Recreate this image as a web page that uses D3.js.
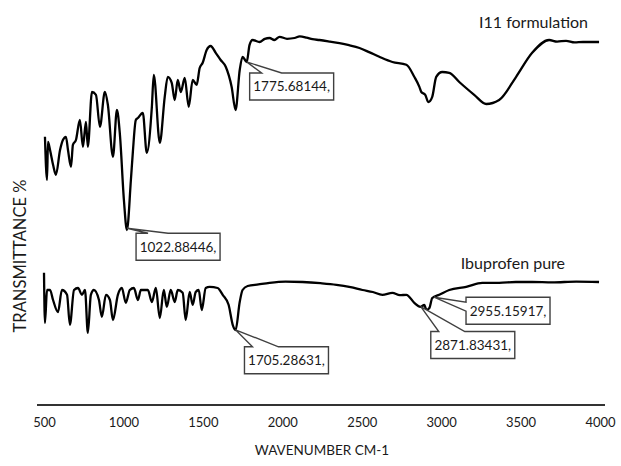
<!DOCTYPE html>
<html>
<head>
<meta charset="utf-8">
<script src="https://cdn.jsdelivr.net/npm/d3@7"></script>
<style>
  html, body { margin: 0; padding: 0; background: #fff; }
  svg { display: block; font-family: Lato, "Open Sans", sans-serif; }
  .lbl { fill: #1a1a1a; }
</style>
</head>
<body>
<svg id="chart" width="621" height="466"></svg>
<script>
'use strict';

// x ticks
const xTicks = [500, 1000, 1500, 2000, 2500, 3000, 3500, 4000];

// I11 formulation (top trace) - wavenumber / transmittance
const i11Wn = [506, 519, 525, 538, 557, 575, 601, 619, 638, 651, 670, 682, 701, 726, 745, 764, 776, 802, 827, 852,
  883, 902, 934, 959, 978, 1003, 1022, 1047, 1059, 1078, 1091, 1122, 1147, 1179, 1191, 1229, 1260, 1279, 1304, 1323,
  1342, 1361, 1386, 1411, 1436, 1461, 1480, 1499, 1524, 1549, 1581, 1612, 1644, 1681, 1706, 1732, 1750, 1776, 1794, 1813,
  1857, 1890, 1920, 1950, 1983, 2030, 2077, 2110, 2153, 2190, 2234, 2300, 2360, 2420, 2486, 2550, 2611, 2693, 2781, 2831,
  2863, 2875, 2900, 2919, 2944, 2969, 3007, 3051, 3114, 3208, 3284, 3365, 3472, 3573, 3680, 3730, 3786, 3840, 3893, 3994];
const i11T = [65.8, 55, 64.5, 62.5, 58.8, 56.3, 62.5, 65, 65.8, 62.5, 58.3, 63.8, 65, 70, 63.3, 69.5, 63.3, 77, 76.3, 68.3,
  77, 73.8, 60.8, 72.5, 66.3, 50, 42.5, 55, 61.8, 70, 70.5, 71.8, 61.8, 73.3, 81.3, 64.3, 75.8, 80.8, 79.3, 75,
  80, 77, 80.5, 73.3, 80, 78.8, 83, 84.3, 87.5, 88.5, 86.8, 85, 83.3, 78.3, 72.5, 82.5, 85.8, 84.5, 88.8, 90,
  89.5, 90.3, 90.5, 90, 90.8, 90.3, 90.5, 90.9, 90.6, 90.2, 90, 89.6, 89.2, 88.7, 88, 86.9, 85.8, 84.5, 83.8, 80.8,
  78.3, 77, 76.3, 74.5, 75.8, 80.8, 82, 81.8, 79.5, 76.3, 74, 75, 80.8, 86.8, 90, 89.6, 89.8, 89.4, 89.5, 89.5];

// Ibuprofen pure (bottom trace)
const ibuWn = [500, 506, 519, 538, 557, 588, 613, 645, 663, 689, 714, 739, 758, 776, 795, 814, 846, 864, 890, 915,
  934, 965, 990, 1015, 1040, 1066, 1091, 1110, 1135, 1154, 1179, 1204, 1229, 1254, 1273, 1298, 1323, 1342, 1373, 1392,
  1417, 1436, 1455, 1474, 1493, 1518, 1543, 1593, 1625, 1662, 1688, 1706, 1732, 1750, 1782, 1850, 1920, 2020, 2128, 2240,
  2341, 2430, 2505, 2570, 2630, 2693, 2740, 2781, 2831, 2869, 2894, 2907, 2926, 2944, 2988, 3051, 3158, 3259, 3365, 3470,
  3573, 3700, 3850, 3994];
const ibuT = [31.8, 19.3, 27.5, 27.5, 25, 22, 27.5, 26.3, 18.8, 27.5, 28, 26.3, 27.5, 16.8, 26.3, 27.5, 25, 20.8, 26.3, 25,
  20, 26.3, 28, 24.3, 27.5, 28, 25, 27.5, 27.5, 27.5, 24.5, 28, 20.5, 27.5, 23.3, 27.5, 24.5, 27.5, 26.8, 20,
  27, 23.8, 27, 27.5, 22.5, 28, 28.3, 28, 26.3, 23.8, 18.8, 17.5, 24.5, 27.5, 28.5, 28.9, 29.3, 29.6, 29.5, 29.2,
  28.8, 28.2, 27.5, 27, 26.3, 26.8, 26.2, 26.3, 24.3, 23.3, 23.8, 22.5, 23, 25.5, 26.3, 27.5, 28.3, 29.3, 29.3, 29.5,
  29.5, 29.4, 29.6, 29.5];

// callouts: wavenumber label and which trace it points to
const calloutWn = [1022.88446, 1775.68144, 1705.28631, 2871.83431, 2955.15917];
const calloutSeries = ['i11', 'i11', 'ibu', 'ibu', 'ibu'];

const W = 621, H = 466;
const svg = d3.select('#chart');

const x = d3.scaleLinear().domain([500, 4000]).range([44, 600]);
const y = d3.scaleLinear().domain([0, 95]).range([400, 20]);

const line = d3.line().x(d => x(d[0])).y(d => y(d[1])).curve(d3.curveMonotoneX);

const i11 = i11Wn.map((w, i) => [w, i11T[i]]);
const ibu = ibuWn.map((w, i) => [w, ibuT[i]]);

[i11, ibu].forEach(s => {
  svg.append('path').datum(s).attr('d', line)
    .attr('fill', 'none').attr('stroke', '#000').attr('stroke-width', 2.3).attr('stroke-linejoin', 'round');
});

// x axis
const ax = svg.append('g').attr('transform', `translate(0,${y(-1.25)})`)
  .call(d3.axisBottom(x).tickValues(xTicks).tickSize(0).tickPadding(13).tickFormat(d3.format('d')));
ax.select('.domain').remove();
ax.selectAll('text').attr('class', 'lbl').style('font-size', '13px').style('font-family', 'Lato, sans-serif');
ax.append('line').attr('x1', x(500) - 7).attr('x2', x(4000) + 5)
  .attr('stroke', '#333').attr('stroke-width', 1.8);

svg.append('text').attr('class', 'lbl').attr('x', (x(500) + x(4000)) / 2).attr('y', 455)
  .attr('text-anchor', 'middle').style('font-size', '13.5px').text('WAVENUMBER CM-1');

svg.append('text').attr('class', 'lbl')
  .attr('transform', `translate(26,${y(36)}) rotate(-90)`)
  .attr('text-anchor', 'middle').style('font-size', '16.5px').text('TRANSMITTANCE %');

// series names
svg.append('text').attr('class', 'lbl').attr('x', x(4000) - 12).attr('y', 28)
  .attr('text-anchor', 'end').style('font-size', '16px').text('I11 formulation');
svg.append('text').attr('class', 'lbl').attr('x', x(4000) - 35).attr('y', 269)
  .attr('text-anchor', 'end').style('font-size', '16px').text('Ibuprofen pure');

// callouts
const boxW = 84, boxH = 27;
const boxOff = [[9, 5], [3, 11], [9, 17], [10, 25], [32, 0]];
const wedge = [['top', 12, 32], ['top', 12, 32], ['top', 8, 34], ['top', 8, 34], ['left', 5, 14]];

function valueAt(data, w) {
  const i = d3.bisector(d => d[0]).left(data, w);
  const a = data[Math.max(0, i - 1)], b = data[Math.min(data.length - 1, i)];
  if (a[0] === b[0]) return a[1];
  return a[1] + (b[1] - a[1]) * (w - a[0]) / (b[0] - a[0]);
}

calloutWn.forEach((w, i) => {
  const data = calloutSeries[i] === 'i11' ? i11 : ibu;
  const px = x(w), py = y(valueAt(data, w));
  const bx = px + boxOff[i][0], by = py + boxOff[i][1];
  const [side, s1, s2] = wedge[i];
  const p = d3.path();
  if (side === 'top') {
    p.moveTo(bx, by);
    p.lineTo(bx + s1, by); p.lineTo(px, py); p.lineTo(bx + s2, by);
    p.lineTo(bx + boxW, by); p.lineTo(bx + boxW, by + boxH); p.lineTo(bx, by + boxH); p.closePath();
  } else {
    p.moveTo(bx, by);
    p.lineTo(bx + boxW, by); p.lineTo(bx + boxW, by + boxH); p.lineTo(bx, by + boxH);
    p.lineTo(bx, by + s2); p.lineTo(px, py); p.lineTo(bx, by + s1); p.closePath();
  }
  svg.append('path').attr('d', p.toString())
    .attr('fill', '#fff').attr('stroke', '#404040').attr('stroke-width', 1.4);
  svg.append('text').attr('class', 'lbl').attr('x', bx + boxW / 2).attr('y', by + boxH / 2 + 5)
    .attr('text-anchor', 'middle').style('font-size', '13.5px').text(w.toFixed(5) + ',');
});
</script>
</body>
</html>
